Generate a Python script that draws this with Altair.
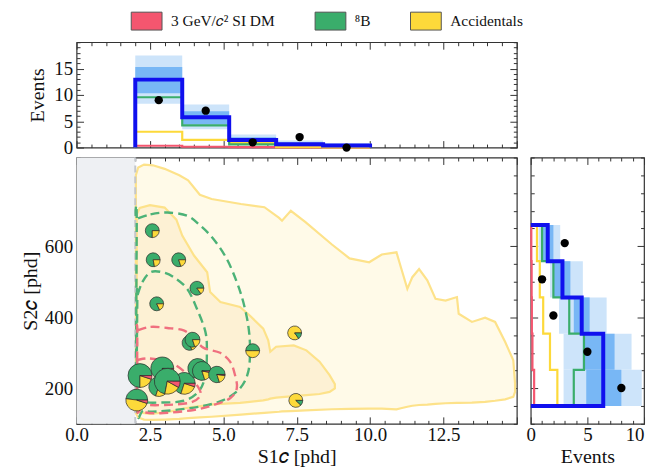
import json
import math
import altair as alt
import pandas as pd

FONT = "Liberation Serif"

# ---- legend components -------------------------------------------------
COMPONENTS = ["3 GeV/𝑐² SI DM", "⁸B", "Accidentals"]
COMP_COLORS = ["#f4566f", "#3aad6b", "#fdd93a"]

# ---- S1c projection (top panel) ---------------------------------------
S1_EDGES = [2.0, 3.6, 5.2, 6.8, 8.4, 10.0]
S1_TOTAL = [12.9, 5.75, 1.45, 0.65, 0.4]
S1_B8 = [9.55, 4.2, 0.6, 0.55, 0.35]
S1_ACC = [3.0, 1.45, 0.85, 0.06, 0.03]
S1_DM = [0.35, 0.15, 0.08, 0.02, 0.01]
S1_1SIG_LO = [10.3, 4.4, 1.0, 0.35, 0.15]
S1_1SIG_HI = [15.3, 6.9, 1.95, 0.95, 0.65]
S1_2SIG_LO = [8.3, 3.5, 0.5, 0.1, 0.0]
S1_2SIG_HI = [17.5, 8.2, 2.5, 1.35, 0.85]
S1_CENTERS = [2.8, 4.4, 6.0, 7.6, 9.2]
S1_COUNTS = [9, 7, 1, 2, 0]

# ---- S2c projection (right panel) -------------------------------------
S2_EDGES = [150, 252, 354, 456, 558, 660]
S2_TOTAL = [6.4, 6.4, 4.5, 2.8, 1.5]
S2_B8 = [3.8, 4.7, 3.4, 2.0, 1.0]
S2_ACC = [2.35, 1.7, 1.1, 0.8, 0.55]
S2_DM = [0.3, 0.15, 0.1, 0.08, 0.05]
S2_1SIG_LO = [4.9, 4.6, 3.8, 2.0, 1.0]
S2_1SIG_HI = [8.0, 7.4, 5.2, 3.5, 2.0]
S2_2SIG_LO = [2.9, 2.9, 2.5, 1.7, 0.7]
S2_2SIG_HI = [9.8, 8.9, 6.7, 4.6, 2.6]
S2_CENTERS = [201, 303, 405, 507, 609]
S2_COUNTS = [8, 5, 2, 1, 3]

# ---- accidentals PDF contours (filled bands) --------------------------
ACC_OUT_X = [2.02, 2.1, 2.3, 2.6, 3.0, 3.5, 3.8, 4.2, 4.6, 5.6, 6.4, 6.9, 7.0, 7.3, 7.8,
             8.7, 9.3, 9.97, 10.4, 10.9, 11.05, 11.27, 11.44, 11.67, 11.95, 12.23, 12.57,
             12.96, 13.02, 13.47, 13.92, 14.26, 14.6, 14.88, 14.94]
ACC_OUT_HI = [800, 822, 830, 828, 818, 800, 786, 745, 733, 719, 710, 680, 672, 700, 668,
              605, 566, 555, 577, 583, 541, 480, 513, 536, 504, 452, 447,
              457, 410, 387, 399, 387, 331, 279, 214]
ACC_OUT_LO = [130, 118, 112, 111, 112, 114, 116, 118, 120, 126, 131, 134, 135, 136, 138,
              141, 142, 143, 143, 141, 144, 148, 151, 153, 154, 156, 158,
              159, 159, 160, 162, 165, 169, 176, 190]

ACC_MID_X = [2.05, 2.15, 2.5, 3.0, 3.4, 3.6, 4.0, 4.45, 4.55, 4.9, 5.57, 5.9, 6.36, 6.53,
             6.6, 6.8, 7.4, 7.83, 8.28, 8.62, 8.8]
ACC_MID_HI = [690, 708, 716, 709, 675, 630, 574, 527, 471, 443, 429, 405, 368, 335,
              303, 317, 321, 307, 275, 237, 212]
ACC_MID_LO = [140, 132, 128, 132, 138, 142, 148, 152, 154, 156, 159, 162, 166, 169,
              171, 174, 178, 181, 184, 190, 200]

# ---- 8B and DM contours (closed dashed loops) -------------------------
B8_OUTER_X = [2.05, 2.52, 3.09, 3.77, 4.22, 4.67, 5.12, 5.46, 5.68, 5.85, 5.91, 5.85, 5.57,
              5.0, 4.22, 3.09, 2.3, 2.05]
B8_OUTER_Y = [677, 690, 695, 686, 658, 620, 564, 499, 443, 377, 312, 247, 200,
              167, 149, 137, 137, 163]
B8_INNER_X = [2.07, 2.24, 2.52, 2.92, 3.31, 3.77, 4.1, 4.39, 4.44, 4.39, 4.16, 3.65, 2.86,
              2.3, 2.07]
B8_INNER_Y = [461, 499, 527, 527, 513, 480, 424, 359, 303, 237, 191, 165, 160, 163, 190]
DM_OUTER_X = [2.07, 2.52, 3.09, 3.65, 3.99, 4.33, 4.89, 5.23, 5.4, 5.46, 5.23, 4.67, 3.99,
              2.86, 2.18, 2.07]
DM_OUTER_Y = [363, 373, 370, 363, 342, 314, 300, 275, 237, 200, 172, 153, 139, 130, 135, 153]
DM_INNER_X = [2.07, 2.5, 3.2, 3.7, 4.1, 4.22, 3.88, 2.97, 2.3, 2.07]
DM_INNER_Y = [280, 284, 272, 245, 209, 181, 160, 153, 155, 172]

# ---- observed events (pie markers) ------------------------------------
EV_S1 = [2.58, 2.61, 3.48, 4.10, 2.73, 3.85, 3.95, 6.00, 7.43, 7.47,
         2.80, 2.92, 3.67, 2.16, 3.09, 4.13, 4.27, 4.78, 2.05]
EV_S2 = [644, 562, 562, 482, 438, 328, 337, 306, 356, 166,
         205, 256, 214, 236, 220, 256, 249, 239, 167]
EV_R = [7, 7, 7, 7, 7, 7.5, 7.5, 7, 7, 7,
        10, 11.5, 11, 12, 13, 10, 9.5, 8.3, 11]
EV_B8 = [0.75, 0.78, 0.80, 0.85, 0.82, 0.80, 0.80, 0.50, 0.15, 0.12,
         0.70, 0.85, 0.70, 0.75, 0.72, 0.80, 0.80, 0.80, 0.48]
EV_ACC = [0.25, 0.22, 0.20, 0.15, 0.18, 0.20, 0.20, 0.50, 0.85, 0.88,
          0.25, 0.10, 0.25, 0.20, 0.20, 0.15, 0.17, 0.18, 0.47]
EV_DM = [0, 0, 0, 0, 0, 0, 0, 0, 0, 0,
         0.05, 0.05, 0.05, 0.05, 0.08, 0.05, 0.03, 0.02, 0.05]

S1_DOMAIN = [0, 15]
S2_DOMAIN = [100, 850]
EV_TOP_DOMAIN = [0, 20]
EV_SIDE_DOMAIN = [0, 10]
S1_THRESHOLD = 2.0

# ---- axis ticks ---------------------------------------------------------
S1_TICKS = [i * 0.5 for i in range(31)]
S1_LONG = [0, 2.5, 5, 7.5, 10, 12.5, 15]
S1_LABELS = [0, 2.5, 5, 7.5, 10, 12.5]
S2_TICKS = list(range(100, 851, 50))
S2_LONG = [200, 400, 600]
EV_TOP_TICKS = list(range(0, 21))
EV_TOP_LONG = [0, 5, 10, 15]
EV_SIDE_TICKS = list(range(0, 11))
EV_SIDE_LONG = [0, 5, 10]

W_MAIN, H_MAIN, H_TOP, W_SIDE = 443, 268, 106, 114
BLUE = "#1010ee"
LIGHT = "#cde4fa"
MID = "#78b7f5"


def label_axis(orient, labels, fmt, title, **extra):
    expr = (f"indexof({json.dumps(labels)}, datum.value) >= 0 ? "
            f"format(datum.value, '{fmt}') : ''")
    return alt.Axis(orient=orient, values=labels, labelExpr=expr, ticks=False, domain=False,
                    grid=False, title=title, labelOverlap=False, labelFlush=False, **extra)


def tick_only(orient, values, size, offset):
    return alt.Axis(orient=orient, values=values, tickSize=size, offset=offset, labels=False,
                    domain=False, grid=False, title=None, tickColor="#333", tickWidth=1)


def frame(sx, sy, xdom, ydom, w, h, xticks, xlong, yticks, ylong, xlab, ylab):
    """Invisible layers that carry outer labels and inward ticks on all four sides."""
    df = pd.DataFrame({"x": xdom, "y": ydom})
    xminor = [v for v in xticks if v not in xlong]
    yminor = [v for v in yticks if v not in ylong]
    pairs = [(xlab, ylab)]
    for vx, vy, size in [(xlong, ylong, 7), (xminor, yminor, 3.5)]:
        pairs.append((tick_only("top", vx, size, -h), tick_only("right", vy, size, -w)))
        pairs.append((tick_only("bottom", vx, size, -h), tick_only("left", vy, size, -w)))
    return [alt.Chart(df).mark_point(opacity=0).encode(
        x=alt.X("x:Q", scale=sx, axis=ax), y=alt.Y("y:Q", scale=sy, axis=ay))
        for ax, ay in pairs]


sx = alt.Scale(domain=S1_DOMAIN, nice=False, zero=False)
sy = alt.Scale(domain=S2_DOMAIN, nice=False, zero=False)
sev_top = alt.Scale(domain=EV_TOP_DOMAIN, nice=False, zero=False)
sev_side = alt.Scale(domain=EV_SIDE_DOMAIN, nice=False, zero=False)


def step_df(edges, vals):
    rows = [(edges[0], 0.0)]
    for i, v in enumerate(vals):
        rows += [(edges[i], v), (edges[i + 1], v)]
    rows.append((edges[-1], 0.0))
    df = pd.DataFrame(rows, columns=["edge", "val"])
    df["i"] = range(len(df))
    return df


def band_df(edges, lo, hi):
    return pd.DataFrame({"e0": edges[:-1], "e1": edges[1:], "lo": lo, "hi": hi})


# ======================= top panel (S1c) =================================
def top_panel():
    layers = []
    for lo, hi, col in [(S1_2SIG_LO, S1_2SIG_HI, LIGHT), (S1_1SIG_LO, S1_1SIG_HI, MID)]:
        layers.append(alt.Chart(band_df(S1_EDGES, lo, hi)).mark_rect(color=col).encode(
            x=alt.X("e0:Q", scale=sx, axis=None), x2="e1:Q",
            y=alt.Y("lo:Q", scale=sev_top, axis=None), y2="hi:Q"))
    for vals, col, w in [(S1_DM, COMP_COLORS[0], 2.2), (S1_ACC, COMP_COLORS[2], 2.2),
                         (S1_B8, COMP_COLORS[1], 2.2), (S1_TOTAL, BLUE, 4)]:
        layers.append(alt.Chart(step_df(S1_EDGES, vals)).mark_line(color=col, strokeWidth=w).encode(
            x=alt.X("edge:Q", scale=sx, axis=None),
            y=alt.Y("val:Q", scale=sev_top, axis=None), order="i:Q"))
    dots = pd.DataFrame({"s1": S1_CENTERS, "n": S1_COUNTS})
    layers.append(alt.Chart(dots).mark_circle(size=70, color="black", opacity=1).encode(
        x=alt.X("s1:Q", scale=sx, axis=None), y=alt.Y("n:Q", scale=sev_top, axis=None)))
    layers += frame(sx, sev_top, S1_DOMAIN, EV_TOP_DOMAIN, W_MAIN, H_TOP,
                    S1_TICKS, S1_LONG, EV_TOP_TICKS, EV_TOP_LONG,
                    None, label_axis("left", EV_TOP_LONG, "d", "Events",
                                     labelPadding=4, titlePadding=6))
    return alt.layer(*layers).resolve_axis(x="independent", y="independent").properties(
        width=W_MAIN, height=H_TOP)


# ======================= right panel (S2c) ===============================
def side_panel():
    layers = []
    for lo, hi, col in [(S2_2SIG_LO, S2_2SIG_HI, LIGHT), (S2_1SIG_LO, S2_1SIG_HI, MID)]:
        layers.append(alt.Chart(band_df(S2_EDGES, lo, hi)).mark_rect(color=col).encode(
            y=alt.Y("e0:Q", scale=sy, axis=None), y2="e1:Q",
            x=alt.X("lo:Q", scale=sev_side, axis=None), x2="hi:Q"))
    for vals, col, w in [(S2_DM, COMP_COLORS[0], 2.2), (S2_ACC, COMP_COLORS[2], 2.2),
                         (S2_B8, COMP_COLORS[1], 2.2), (S2_TOTAL, BLUE, 4)]:
        layers.append(alt.Chart(step_df(S2_EDGES, vals)).mark_line(color=col, strokeWidth=w).encode(
            y=alt.Y("edge:Q", scale=sy, axis=None),
            x=alt.X("val:Q", scale=sev_side, axis=None), order="i:Q"))
    dots = pd.DataFrame({"s2": S2_CENTERS, "n": S2_COUNTS})
    layers.append(alt.Chart(dots).mark_circle(size=70, color="black", opacity=1).encode(
        x=alt.X("n:Q", scale=sev_side, axis=None), y=alt.Y("s2:Q", scale=sy, axis=None)))
    xlab = label_axis("bottom", EV_SIDE_LONG, "d", "Events", labelPadding=2, titlePadding=2,
                      labelAlign={"condition": {"test": "datum.value === 10", "value": "right"},
                                  "value": "center"})
    layers += frame(sev_side, sy, EV_SIDE_DOMAIN, S2_DOMAIN, W_SIDE, H_MAIN,
                    EV_SIDE_TICKS, EV_SIDE_LONG, S2_TICKS, S2_LONG, xlab, None)
    return alt.layer(*layers).resolve_axis(x="independent", y="independent").properties(
        width=W_SIDE, height=H_MAIN)


# ======================= main panel ======================================
def loop_df(loops):
    rows = []
    for name, xs, ys in loops:
        pts = list(zip(xs, ys)) + [(xs[0], ys[0])]
        for i, (a, b) in enumerate(pts):
            rows.append({"loop": name, "i": i, "s1": a, "s2": b})
    return pd.DataFrame(rows)


def band_outline(name, xs, hi, lo):
    return (name, list(xs) + list(xs)[::-1], list(hi) + list(lo)[::-1])


def main_panel():
    layers = []
    region = pd.DataFrame({"x0": [S1_DOMAIN[0]], "x1": [S1_THRESHOLD],
                           "y0": [S2_DOMAIN[0]], "y1": [S2_DOMAIN[1]]})
    layers.append(alt.Chart(region).mark_rect(color="#eef0f3").encode(
        x=alt.X("x0:Q", scale=sx, axis=None), x2="x1:Q",
        y=alt.Y("y0:Q", scale=sy, axis=None), y2="y1:Q"))
    for xs, hi, lo, col in [(ACC_OUT_X, ACC_OUT_HI, ACC_OUT_LO, "#fffae8"),
                            (ACC_MID_X, ACC_MID_HI, ACC_MID_LO, "#fdf1d4")]:
        df = pd.DataFrame({"s1": xs, "hi": hi, "lo": lo})
        layers.append(alt.Chart(df).mark_area(color=col, opacity=1).encode(
            x=alt.X("s1:Q", scale=sx, axis=None),
            y=alt.Y("hi:Q", scale=sy, axis=None), y2="lo:Q"))
    acc_lines = loop_df([band_outline("out", ACC_OUT_X, ACC_OUT_HI, ACC_OUT_LO),
                         band_outline("mid", ACC_MID_X, ACC_MID_HI, ACC_MID_LO)])
    layers.append(alt.Chart(acc_lines).mark_line(color="#fde28a", strokeWidth=2.2).encode(
        x=alt.X("s1:Q", scale=sx, axis=None), y=alt.Y("s2:Q", scale=sy, axis=None),
        detail="loop:N", order="i:Q"))
    layers.append(alt.Chart(region).mark_rule(color="#c3c7cc", strokeWidth=2, strokeDash=[7, 4]).encode(
        x=alt.X("x1:Q", scale=sx, axis=None),
        y=alt.Y("y0:Q", scale=sy, axis=None), y2="y1:Q"))
    for loops, col in [([("o", B8_OUTER_X, B8_OUTER_Y), ("i", B8_INNER_X, B8_INNER_Y)], "#4cb277"),
                       ([("o", DM_OUTER_X, DM_OUTER_Y), ("i", DM_INNER_X, DM_INNER_Y)], "#f0707f")]:
        layers.append(alt.Chart(loop_df(loops)).mark_line(
            color=col, strokeWidth=2.4, strokeDash=[9, 5], interpolate="cardinal-closed").encode(
            x=alt.X("s1:Q", scale=sx, axis=None), y=alt.Y("s2:Q", scale=sy, axis=None),
            detail="loop:N", order="i:Q"))

    rows = []
    for e in range(len(EV_S1)):
        fr = {COMPONENTS[1]: EV_B8[e], COMPONENTS[2]: EV_ACC[e], COMPONENTS[0]: EV_DM[e]}
        seq = [COMPONENTS[2], COMPONENTS[1], COMPONENTS[0]] if EV_ACC[e] > EV_B8[e] \
            else [COMPONENTS[1], COMPONENTS[2], COMPONENTS[0]]
        for k, c in enumerate(seq):
            if fr[c] > 0:
                rows.append({"id": e, "s1": EV_S1[e], "s2": EV_S2[e], "r": EV_R[e],
                             "comp": c, "frac": fr[c], "k": k, "seq": e * 3 + k})
    pies = pd.DataFrame(rows)
    layers.append(alt.Chart(pies).transform_stack(
        stack="frac", groupby=["id"], as_=["t0", "t1"], sort=[alt.SortField("k")]
    ).mark_arc(stroke="#2a2a2a", strokeWidth=0.7).encode(
        x=alt.X("s1:Q", scale=sx, axis=None), y=alt.Y("s2:Q", scale=sy, axis=None),
        theta=alt.Theta("t0:Q", stack=False,
                        scale=alt.Scale(domain=[0, 1], range=[2.5 * math.pi, 0.5 * math.pi])),
        theta2="t1:Q",
        radius=alt.Radius("r:Q", scale=None),
        color=alt.Color("comp:N", scale=alt.Scale(domain=COMPONENTS, range=COMP_COLORS),
                        legend=alt.Legend(orient="none", legendX=61, legendY=-31,
                                          direction="horizontal", title=None,
                                          symbolType="M-1.72,-1H1.72V1H-1.72Z", symbolSize=324,
                                          symbolStrokeColor="#555", symbolStrokeWidth=1,
                                          symbolOpacity=1, labelFont=FONT, labelFontSize=15.5,
                                          labelColor="#111", labelOffset=15, columnPadding=38)),
        order="seq:Q"))
    layers += frame(sx, sy, S1_DOMAIN, S2_DOMAIN, W_MAIN, H_MAIN,
                    S1_TICKS, S1_LONG, S2_TICKS, S2_LONG,
                    label_axis("bottom", S1_LABELS, ".1f", "S1𝑐 [phd]",
                               labelPadding=2, titlePadding=2),
                    label_axis("left", S2_LONG, "d", "S2𝑐 [phd]", labelPadding=4, titlePadding=4))
    return alt.layer(*layers).resolve_axis(x="independent", y="independent").properties(
        width=W_MAIN, height=H_MAIN)


chart = alt.vconcat(
    top_panel(),
    alt.hconcat(main_panel(), side_panel(), spacing=14, bounds="flush"),
    spacing=10, bounds="flush",
).properties(
    padding={"left": 11, "top": 2, "right": 0, "bottom": 0}
).configure_view(
    stroke="#333", strokeWidth=1.2
).configure_axis(
    labelFont=FONT, titleFont=FONT, labelFontSize=19, titleFontSize=20,
    titleFontWeight="normal", labelColor="#111", titleColor="#111"
)

chart.save("out.html", embed_options={"renderer": "svg", "actions": False})
